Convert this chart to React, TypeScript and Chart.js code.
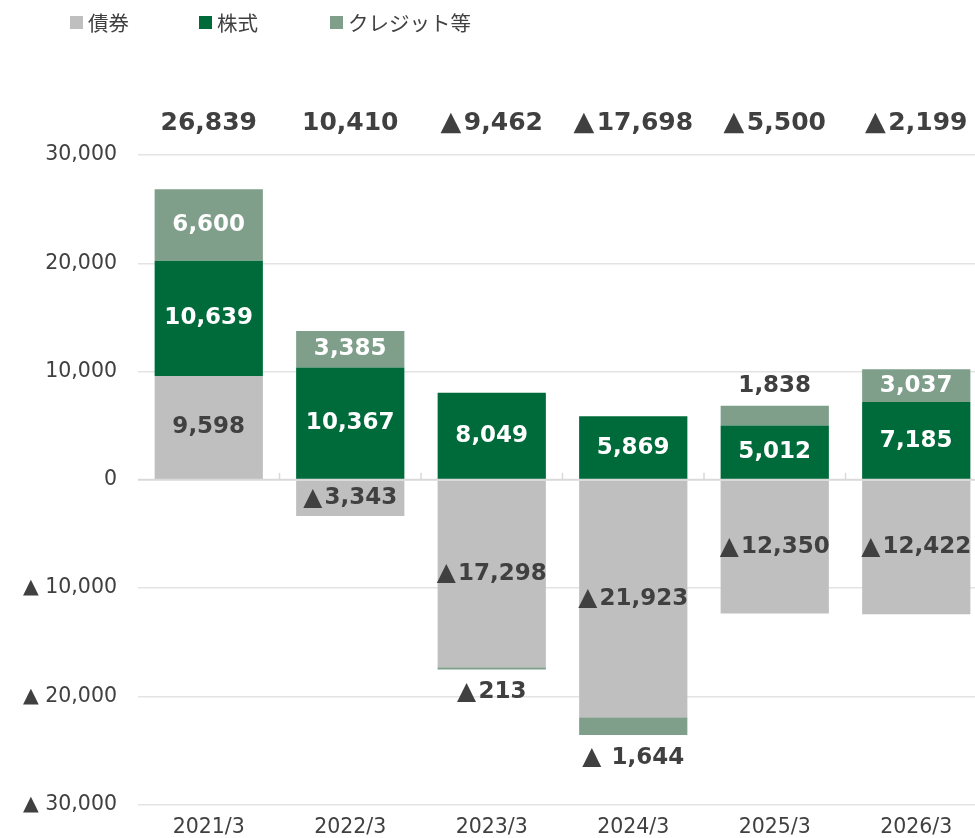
import { useEffect, useRef } from "react";
import { Chart, registerables } from "chart.js";
Chart.register(...registerables);

const categories = ["2021/3", "2022/3", "2023/3", "2024/3", "2025/3", "2026/3"];
const bonds = [9598, -3343, -17298, -21923, -12350, -12422];
const stocks = [10639, 10367, 8049, 5869, 5012, 7185];
const credit = [6600, 3385, -213, -1644, 1838, 3037];
const creditLabels = ["6,600", "3,385", "▲213", "▲ 1,644", "1,838", "3,037"];
const totalLabels = ["26,839", "10,410", "▲9,462", "▲17,698", "▲5,500", "▲2,199"];
const seriesNames = ["債券", "株式", "クレジット等"];

const FONT = '"DejaVu Sans", "Noto Sans CJK JP", sans-serif';
const JFONT = '"Noto Sans CJK JP", "DejaVu Sans", sans-serif';
const TEXT = "#404040";
const C_BOND = "#bfbfbf";
const C_STOCK = "#006b3a";
const C_CREDIT = "#7f9f8b";

const fmt = (v: number) => (v < 0 ? "▲" + Math.abs(v).toLocaleString("en-US") : v.toLocaleString("en-US"));

// draws text centred at x, with a slightly larger leading triangle and a small gap
function drawLabel(ctx: any, text: string, x: number, y: number, size: number) {
  const bold = `bold ${size}px ${FONT}`;
  if (!text.startsWith("▲")) {
    ctx.font = bold;
    ctx.textAlign = "center";
    ctx.fillText(text, x, y);
    return;
  }
  const rest = text.slice(1);
  const triFont = `bold ${size * 1.08}px ${FONT}`;
  ctx.font = triFont;
  const tw = ctx.measureText("▲").width;
  ctx.font = bold;
  const rw = ctx.measureText(rest).width;
  const gap = size * 0.1;
  const total = tw + gap + rw;
  const left = x - total / 2;
  ctx.textAlign = "left";
  ctx.font = triFont;
  ctx.fillText("▲", left, y);
  ctx.font = bold;
  ctx.fillText(rest, left + tw + gap, y);
}

const labelsPlugin = {
  id: "customLabels",
  afterDatasetsDraw(chart: any) {
    const ctx = chart.ctx;
    const area = chart.chartArea;
    const y = chart.scales.y;
    const x = chart.scales.x;
    const y0 = y.getPixelForValue(0);
    ctx.save();
    // zero axis line
    ctx.strokeStyle = "#d9d9d9";
    ctx.lineWidth = 2;
    ctx.beginPath();
    ctx.moveTo(area.left, y0);
    ctx.lineTo(area.right, y0);
    ctx.stroke();
    // category boundary ticks
    ctx.lineWidth = 1.5;
    for (let i = 0; i < categories.length - 1; i++) {
      const bx = (x.getPixelForValue(i) + x.getPixelForValue(i + 1)) / 2;
      ctx.beginPath();
      ctx.moveTo(bx, y0 - 7);
      ctx.lineTo(bx, y0);
      ctx.stroke();
    }
    ctx.textBaseline = "middle";
    chart.data.datasets.forEach((ds: any, di: number) => {
      const meta = chart.getDatasetMeta(di);
      meta.data.forEach((el: any, i: number) => {
        const v = ds.data[i];
        const text = di === 2 ? creditLabels[i] : fmt(v);
        const top = Math.min(el.y, el.base);
        const bot = Math.max(el.y, el.base);
        const h = bot - top;
        let ty = (top + bot) / 2;
        let color = di === 1 || di === 2 ? "#ffffff" : TEXT;
        if (h < 28) {
          color = TEXT;
          ty = v >= 0 ? top - 20 : bot + 23;
        }
        ctx.fillStyle = color;
        drawLabel(ctx, text, el.x, ty, 23);
      });
    });
    // totals
    ctx.fillStyle = TEXT;
    totalLabels.forEach((t, i) => {
      drawLabel(ctx, t, x.getPixelForValue(i), area.top - 32, 25);
    });
    // legend
    const lx = [70, 199, 330];
    const colors = [C_BOND, C_STOCK, C_CREDIT];
    ctx.textAlign = "left";
    ctx.font = `20.5px ${JFONT}`;
    seriesNames.forEach((n, i) => {
      ctx.fillStyle = colors[i];
      ctx.fillRect(lx[i], 16, 13, 13);
      ctx.fillStyle = TEXT;
      ctx.fillText(n, lx[i] + 18, 23);
    });
    ctx.restore();
  },
};

export default function App() {
  const ref = useRef<HTMLCanvasElement>(null);
  useEffect(() => {
    document.body.style.margin = "0";
    document.body.style.overflow = "hidden";
    const chart = new Chart(ref.current!, {
      type: "bar",
      data: {
        labels: categories,
        datasets: [
          { label: seriesNames[0], data: bonds, backgroundColor: C_BOND },
          { label: seriesNames[1], data: stocks, backgroundColor: C_STOCK },
          { label: seriesNames[2], data: credit, backgroundColor: C_CREDIT },
        ],
      },
      options: {
        animation: false,
        responsive: true,
        maintainAspectRatio: false,
        layout: { padding: { top: 155, right: 3, left: 0, bottom: 0 } },
        datasets: { bar: { barPercentage: 0.765, categoryPercentage: 1 } },
        plugins: { legend: { display: false }, tooltip: { enabled: false } },
        scales: {
          x: {
            stacked: true,
            afterFit: (s: any) => {
              s.height = 33;
            },
            grid: { display: false, drawTicks: false },
            border: { display: false },
            ticks: { font: { family: FONT, size: 20.5 }, color: TEXT, padding: 11 },
          },
          y: {
            stacked: true,
            min: -30000,
            max: 30000,
            afterFit: (s: any) => {
              s.width = 138;
            },
            grid: {
              drawTicks: false,
              color: (c: any) => (c.tick && c.tick.value === 0 ? "rgba(0,0,0,0)" : "#e3e3e3"),
              lineWidth: 1.5,
            },
            border: { display: false },
            ticks: {
              stepSize: 10000,
              padding: 21,
              font: { family: FONT, size: 20.5 },
              color: TEXT,
              callback: (v: any) => (v < 0 ? "▲ " + Math.abs(v).toLocaleString("en-US") : Number(v).toLocaleString("en-US")),
            },
          },
        },
      },
      plugins: [labelsPlugin],
    });
    return () => chart.destroy();
  }, []);
  return (
    <div style={{ position: "relative", width: 990, height: 838 }}>
      <canvas ref={ref} />
    </div>
  );
}
